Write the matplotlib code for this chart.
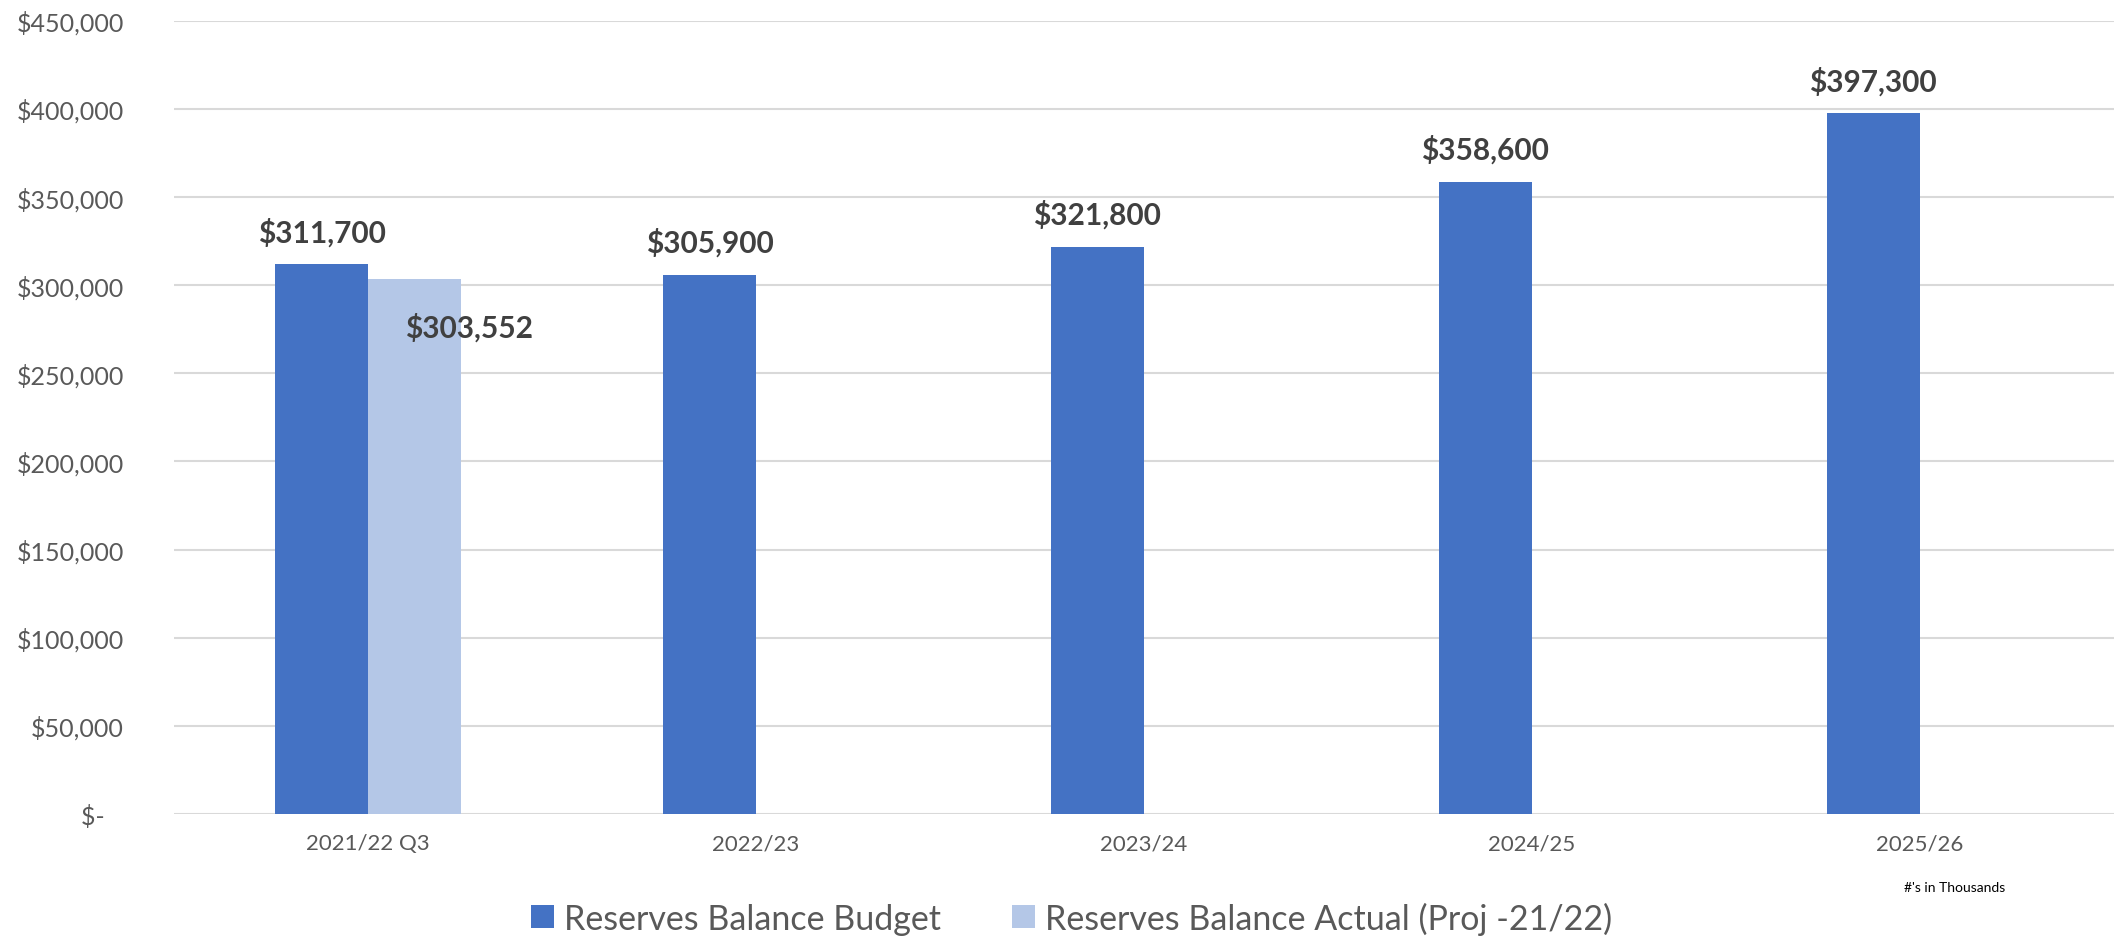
import matplotlib.pyplot as plt
import numpy as np
from matplotlib.ticker import FuncFormatter

plt.rcParams['font.family'] = ['Lato', 'DejaVu Sans']

categories = ['2021/22 Q3', '2022/23', '2023/24', '2024/25', '2025/26']
budget = [311700, 305900, 321800, 358600, 397300]
actual = [303552]  # only the first period has an actual projection

BLUE = '#4472C4'
LIGHT = '#B4C7E7'
GRID = '#D9D9D9'
TICK = '#595959'
LABEL = '#404040'


def money(v, pos=None):
    if v == 0:
        return '$-   '
    return '${:,.0f}'.format(v)


fig = plt.figure(figsize=(21.18, 9.37), dpi=100)
ax = fig.add_axes([0.0822, 0.1302, 0.9158, 0.8468])

x = np.arange(len(categories))
w = 0.24
b1 = ax.bar(x - w / 2, budget, w, color=BLUE, label='Reserves Balance Budget', zorder=3)
b2 = ax.bar(x[:len(actual)] + w / 2, actual, w, color=LIGHT,
            label='Reserves Balance Actual (Proj -21/22)', zorder=3)

# data labels above the budget bars
for rect, v in zip(b1, budget):
    ax.annotate(money(v), (rect.get_x() + rect.get_width() / 2, v),
                xytext=(0, 33), textcoords='offset pixels', ha='center', va='center',
                fontsize=21.5, fontweight='bold', color=LABEL)
# the actual label was moved by hand in the original
for rect, v in zip(b2, actual):
    ax.annotate(money(v), (rect.get_x() + rect.get_width() / 2, v),
                xytext=(54, -48), textcoords='offset pixels', ha='center', va='center',
                fontsize=21.5, fontweight='bold', color=LABEL, zorder=4)

ax.set_xlim(-0.5, len(categories) - 0.5)
ax.set_ylim(0, 450000)
ax.set_yticks(np.arange(0, 450001, 50000))
ax.yaxis.set_major_formatter(FuncFormatter(money))
ax.set_xticks(x)
ax.set_xticklabels(categories)
ax.tick_params(axis='y', length=0, pad=36, labelsize=18, labelcolor=TICK)
ax.tick_params(axis='x', length=0, pad=14, labelsize=16, labelcolor=TICK)
ax.grid(axis='y', color=GRID, linewidth=1.5, zorder=0)
for s in ax.spines.values():
    s.set_visible(False)

fig.legend(loc='center', bbox_to_anchor=(0.506, 0.019), ncol=2, frameon=False,
           fontsize=24.5, labelcolor=TICK, handlelength=0.67, handleheight=0.67,
           handletextpad=0.3, columnspacing=2.1)

fig.text(0.923, 0.052, "#'s in Thousands", fontsize=10, color='black',
         ha='center', va='center')

plt.savefig('out.png')
